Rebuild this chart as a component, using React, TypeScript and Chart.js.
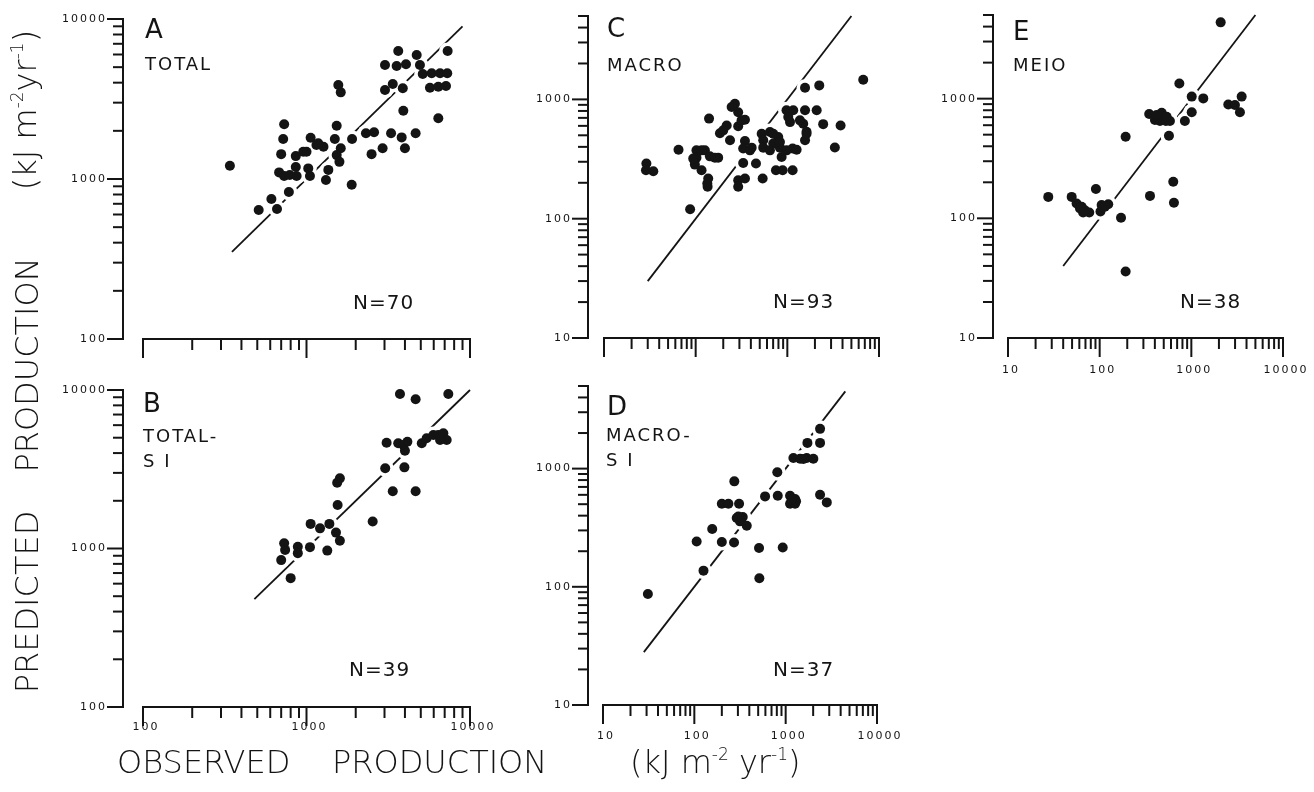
import React, { useEffect, useRef } from 'react';
import { Chart, registerables } from 'chart.js';

Chart.register(...registerables);

const W = 1314;
const H = 792;
const INK = '#141414';
const FONT = '"DejaVu Sans", "Liberation Sans", sans-serif';

// ---------- Panel A : TOTAL (observed vs predicted, kJ m-2 yr-1) ----------
const obsA = [340, 510, 610, 660, 780, 730, 720, 700, 680, 730, 860, 860, 870, 1025, 1050, 1000, 1060, 1150, 1270, 1315, 1360, 1530, 1490, 1620, 1530, 1590, 1565, 1620, 1900, 1890, 2310, 2590, 2500, 2920, 3290, 3820, 4000, 4650, 3910, 6400, 3020, 3370, 3880, 3020, 3560, 4060, 3640, 4720, 4940, 5140, 5830, 6560, 7260, 5690, 6400, 7130, 7300, 955, 1180, 790];
const predA = [1210, 640, 750, 650, 830, 2200, 1780, 1430, 1100, 1045, 1390, 1190, 1045, 1165, 1045, 1480, 1810, 1630, 1590, 985, 1140, 2150, 1780, 1555, 1410, 1280, 3870, 3480, 1780, 920, 1930, 1960, 1430, 1555, 1930, 1820, 1555, 1930, 2670, 2400, 3600, 3920, 3690, 5160, 5090, 5210, 6310, 5960, 5160, 4530, 4580, 4580, 4580, 3720, 3775, 3810, 6310, 1480, 1670, 1060];
const fitA = [350, 9000];

// ---------- Panel B : TOTAL - SI ----------
const obsB = [3730, 4650, 7370, 3090, 3640, 3910, 4140, 4000, 5070, 5430, 5970, 6400, 6870, 7200, 6560, 3030, 3970, 3370, 4650, 1600, 1540, 1550, 2540, 1060, 1210, 1380, 1515, 1600, 1050, 1340, 885, 885, 730, 740, 700, 800];
const predB = [9440, 8740, 9440, 4650, 4610, 4500, 4720, 4140, 4610, 4960, 5200, 5200, 5330, 4840, 4840, 3210, 3250, 2300, 2300, 2770, 2600, 1880, 1480, 1430, 1340, 1430, 1260, 1120, 1020, 970, 1025, 935, 1080, 980, 845, 650];
const fitB = [480, 10000];

// ---------- Panel C : MACRO ----------
const obsC = [6730, 1560, 2230, 980, 1160, 1560, 2090, 1070, 1490, 2460, 3810, 1620, 1560, 3300, 268, 291, 345, 291, 140, 218, 184, 237, 345, 330, 408, 525, 646, 796, 546, 702, 546, 830, 1142, 866, 65, 102, 126, 143, 176, 98, 116, 137, 135, 29, 34.5, 28.7, 87, 330, 455, 291, 345, 291, 538, 751, 889, 1142, 102, 391, 983, 1263, 646, 702, 830, 1023, 1372, 1620, 116, 94, 162, 134, 247, 317, 200];
const predC = [1460, 1250, 1310, 810, 810, 810, 810, 645, 625, 620, 605, 535, 455, 395, 920, 780, 675, 595, 690, 605, 520, 455, 448, 387, 394, 516, 533, 484, 454, 426, 394, 394, 387, 329, 379, 374, 374, 333, 325, 284, 255, 217, 185, 290, 250, 255, 120, 293, 290, 210, 217, 185, 217, 255, 255, 255, 325, 374, 374, 379, 374, 516, 439, 711, 667, 516, 374, 319, 325, 197, 862, 667, 550];
const fitC = [30, 5000];

// ---------- Panel D : MACRO - SI ----------
const obsD = [2380, 1730, 2380, 1215, 1440, 1700, 2010, 810, 274, 595, 819, 1117, 1267, 1117, 1267, 2380, 2820, 200, 236, 309, 291, 339, 316, 375, 157, 106, 200, 272, 511, 929, 126, 515, 31, 1300, 1166, 1563, 303];
const predD = [2170, 1650, 1650, 1230, 1210, 1230, 1210, 930, 780, 582, 590, 590, 554, 505, 505, 602, 518, 505, 505, 505, 382, 390, 358, 329, 308, 242, 239, 237, 213, 215, 137, 118, 87, 530, 546, 1208, 394];
const fitD = [28, 4500];

// ---------- Panel E : MEIO ----------
const obsE = [2090, 740, 1010, 1350, 3540, 2530, 2990, 3390, 1010, 850, 347, 475, 401, 455, 528, 584, 570, 192, 635, 354, 646, 91, 27.5, 49.5, 56, 63.6, 69, 77, 66, 102, 105, 124, 171, 192, 61, 114, 418, 538];
const predE = [4340, 1340, 1040, 1005, 1040, 895, 885, 770, 770, 650, 743, 763, 663, 650, 650, 650, 490, 481, 202, 154, 135, 176, 151, 151, 133, 125, 117, 112, 112, 114, 129, 131, 101, 36, 121, 125, 729, 706];
const fitE = [40, 5000];

// ---------- axis ticks / labels ----------
const tickSteps = [1, 2, 3, 4, 5, 6, 7, 8, 9];
const rangeAB = [100, 10000];
const rangeX_CDE = [10, 10000];
const rangeY_CDE = [10, 5000];
const yTickLabelsAB = ['100', '1000', '10000'];
const xTickLabelsB = ['100', '1000', '10000'];
const yTickLabelsCDE = ['10', '100', '1000'];
const xTickLabelsDE = ['10', '100', '1000', '10000'];

const panelLetters = ['A', 'B', 'C', 'D', 'E'];
const panelNames = [['TOTAL'], ['TOTAL-', 'S I'], ['MACRO'], ['MACRO-', 'S I'], ['MEIO']];
const sampleSizes = ['N=70', 'N=39', 'N=93', 'N=37', 'N=38'];

type Area = { l: number; r: number; t: number; b: number };
type PanelCfg = {
  obs: number[];
  pred: number[];
  fit: number[];
  xRange: number[];
  yRange: number[];
  area: Area;
  yGap: number;
  xLabels: string[];
  yLabels: string[];
  xLabelDy: number;
  letter: string;
  names: string[];
  n: string;
  letterPos: [number, number];
  namePos: [number, number];
  nPos: [number, number];
};

const panels: PanelCfg[] = [
  {
    obs: obsA, pred: predA, fit: fitA, xRange: rangeAB, yRange: rangeAB,
    area: { l: 143, r: 470, t: 19, b: 339 }, yGap: 20,
    xLabels: [], yLabels: yTickLabelsAB, xLabelDy: 19,
    letter: panelLetters[0], names: panelNames[0], n: sampleSizes[0],
    letterPos: [145, 38], namePos: [145, 70], nPos: [353, 309],
  },
  {
    obs: obsB, pred: predB, fit: fitB, xRange: rangeAB, yRange: rangeAB,
    area: { l: 143, r: 470, t: 390, b: 707 }, yGap: 20,
    xLabels: xTickLabelsB, yLabels: yTickLabelsAB, xLabelDy: 20,
    letter: panelLetters[1], names: panelNames[1], n: sampleSizes[1],
    letterPos: [143, 412], namePos: [143, 442], nPos: [349, 676],
  },
  {
    obs: obsC, pred: predC, fit: fitC, xRange: rangeX_CDE, yRange: rangeY_CDE,
    area: { l: 604, r: 879, t: 16, b: 338 }, yGap: 16,
    xLabels: [], yLabels: yTickLabelsCDE, xLabelDy: 30,
    letter: panelLetters[2], names: panelNames[2], n: sampleSizes[2],
    letterPos: [607, 37], namePos: [607, 71], nPos: [773, 308],
  },
  {
    obs: obsD, pred: predD, fit: fitD, xRange: rangeX_CDE, yRange: rangeY_CDE,
    area: { l: 603, r: 877, t: 386, b: 705 }, yGap: 15,
    xLabels: xTickLabelsDE, yLabels: yTickLabelsCDE, xLabelDy: 31,
    letter: panelLetters[3], names: panelNames[3], n: sampleSizes[3],
    letterPos: [607, 415], namePos: [606, 441], nPos: [773, 676],
  },
  {
    obs: obsE, pred: predE, fit: fitE, xRange: rangeX_CDE, yRange: rangeY_CDE,
    area: { l: 1008, r: 1283, t: 15, b: 338 }, yGap: 15,
    xLabels: xTickLabelsDE, yLabels: yTickLabelsCDE, xLabelDy: 32,
    letter: panelLetters[4], names: panelNames[4], n: sampleSizes[4],
    letterPos: [1013, 40], namePos: [1013, 71], nPos: [1180, 308],
  },
];

function logTicks(min: number, max: number): number[] {
  const out: number[] = [];
  for (let e = Math.floor(Math.log10(min)); e <= Math.ceil(Math.log10(max)); e++) {
    for (const m of tickSteps) {
      const v = m * Math.pow(10, e);
      if (v >= min * 0.999 && v <= max * 1.001) out.push(v);
    }
  }
  return out;
}
const isDecade = (v: number) => Math.abs(Math.log10(v) - Math.round(Math.log10(v))) < 1e-6;

function makeDecor(cfg: PanelCfg) {
  return {
    id: 'panelDecor' + cfg.letter,
    afterDraw(chart: any) {
      const ctx: CanvasRenderingContext2D = chart.ctx;
      const ca = chart.chartArea;
      const xs = chart.scales.x;
      const ys = chart.scales.y;
      const line = (x1: number, y1: number, x2: number, y2: number) => {
        ctx.beginPath();
        ctx.moveTo(x1, y1);
        ctx.lineTo(x2, y2);
        ctx.stroke();
      };
      ctx.save();
      ctx.strokeStyle = INK;
      ctx.fillStyle = INK;
      ctx.lineWidth = 2;
      ctx.lineCap = 'butt';

      // y axis (detached to the left of the plotting area)
      const ax = ca.left - cfg.yGap;
      const yTop = ys.getPixelForValue(ys.max);
      const yBot = ys.getPixelForValue(ys.min);
      line(ax, yTop - 1, ax, yBot + 1);
      for (const v of logTicks(ys.min, ys.max)) {
        const p = ys.getPixelForValue(v);
        line(ax - (isDecade(v) ? 16 : 10), p, ax, p);
      }
      ctx.font = '11px ' + FONT;
      (ctx as any).letterSpacing = '2px';
      ctx.textAlign = 'right';
      ctx.textBaseline = 'middle';
      for (const lab of cfg.yLabels) {
        const p = ys.getPixelForValue(Number(lab));
        ctx.fillText(lab, ax - 16, p);
      }

      // x axis
      const base = ca.bottom;
      const xL = xs.getPixelForValue(xs.min);
      const xR = xs.getPixelForValue(xs.max);
      line(xL - 1, base, xR + 1, base);
      for (const v of logTicks(xs.min, xs.max)) {
        const p = xs.getPixelForValue(v);
        line(p, base, p, base + (isDecade(v) ? 19 : 11));
      }
      ctx.textAlign = 'center';
      for (const lab of cfg.xLabels) {
        const p = xs.getPixelForValue(Number(lab));
        ctx.fillText(lab, p + 3, base + cfg.xLabelDy);
      }

      // panel annotations
      (ctx as any).letterSpacing = '0px';
      ctx.textAlign = 'left';
      ctx.textBaseline = 'alphabetic';
      ctx.font = '26px ' + FONT;
      ctx.fillText(cfg.letter, cfg.letterPos[0], cfg.letterPos[1]);
      ctx.font = '18px ' + FONT;
      (ctx as any).letterSpacing = '2px';
      cfg.names.forEach((s, i) => ctx.fillText(s, cfg.namePos[0], cfg.namePos[1] + i * 25));
      (ctx as any).letterSpacing = '1px';
      ctx.font = '20px ' + FONT;
      ctx.fillText(cfg.n, cfg.nPos[0], cfg.nPos[1]);
      ctx.restore();
    },
  };
}

function PanelChart({ cfg }: { cfg: PanelCfg }) {
  const ref = useRef<HTMLCanvasElement>(null);
  useEffect(() => {
    const pts = cfg.obs.map((x, i) => ({ x, y: cfg.pred[i] }));
    const fitPts = cfg.fit.map((v) => ({ x: v, y: v }));
    const chart = new Chart(ref.current as HTMLCanvasElement, {
      type: 'scatter',
      data: {
        datasets: [
          {
            data: pts,
            pointRadius: 5,
            pointBackgroundColor: INK,
            backgroundColor: INK,
            pointBorderWidth: 0,
            borderWidth: 0,
            order: 0,
            clip: false,
          } as any,
          {
            data: pts,
            pointRadius: 8.5,
            pointBackgroundColor: '#ffffff',
            backgroundColor: '#ffffff',
            pointBorderWidth: 0,
            borderWidth: 0,
            order: 1,
            clip: false,
          } as any,
          {
            type: 'line',
            data: fitPts,
            borderColor: INK,
            borderWidth: 1.8,
            pointRadius: 0,
            fill: false,
            showLine: true,
            order: 2,
            clip: false,
          } as any,
        ],
      },
      options: {
        responsive: false,
        animation: false,
        devicePixelRatio: 1,
        events: [],
        layout: {
          padding: {
            left: cfg.area.l,
            right: W - cfg.area.r,
            top: cfg.area.t,
            bottom: H - cfg.area.b,
          },
        },
        scales: {
          x: { type: 'logarithmic', min: cfg.xRange[0], max: cfg.xRange[1], display: false },
          y: { type: 'logarithmic', min: cfg.yRange[0], max: cfg.yRange[1], display: false },
        },
        plugins: {
          legend: { display: false },
          tooltip: { enabled: false },
        },
      },
      plugins: [makeDecor(cfg)],
    } as any);
    return () => chart.destroy();
  }, [cfg]);
  return (
    <canvas
      ref={ref}
      width={W}
      height={H}
      style={{ position: 'absolute', left: 0, top: 0, width: W, height: H }}
    />
  );
}

const titleStyle: React.CSSProperties = {
  position: 'absolute',
  font: '300 32px ' + FONT,
  lineHeight: '32px',
  color: INK,
  whiteSpace: 'nowrap',
};
const supStyle: React.CSSProperties = {
  fontSize: 17,
  position: 'relative',
  top: -13,
};

function VTitle({ cy, children }: { cy: number; children: React.ReactNode }) {
  return (
    <div
      style={{
        ...titleStyle,
        left: 27,
        top: cy,
        transform: 'translate(-50%, -50%) rotate(-90deg)',
      }}
    >
      {children}
    </div>
  );
}

export default function App() {
  return (
    <div
      style={{
        position: 'absolute',
        left: 0,
        top: 0,
        width: W,
        height: H,
        background: '#ffffff',
        overflow: 'hidden',
      }}
    >
      {panels.map((p) => (
        <PanelChart key={p.letter} cfg={p} />
      ))}
      <VTitle cy={602}>PREDICTED</VTitle>
      <VTitle cy={365}>PRODUCTION</VTitle>
      <VTitle cy={110}>
        (kJ m<span style={supStyle}>-2</span>yr<span style={supStyle}>-1</span>)
      </VTitle>
      <div style={{ ...titleStyle, left: 117, top: 746 }}>OBSERVED</div>
      <div style={{ ...titleStyle, left: 332, top: 746 }}>PRODUCTION</div>
      <div style={{ ...titleStyle, left: 630, top: 746 }}>
        (kJ m<span style={supStyle}>-2</span> yr<span style={supStyle}>-1</span>)
      </div>
    </div>
  );
}
